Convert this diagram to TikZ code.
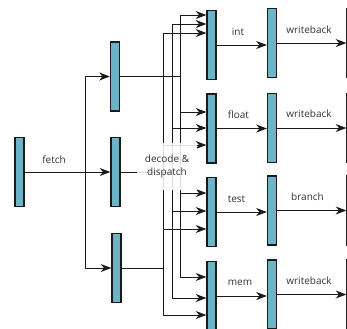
\documentclass[tikz,border=0pt]{standalone}
\usepackage{fontspec}
\setsansfont{Open Sans}
\usetikzlibrary{arrows.meta}
\definecolor{regfill}{HTML}{6DB3C6}
\definecolor{regdraw}{HTML}{1A1A1A}
\definecolor{txt}{HTML}{333333}
\tikzset{
  reg/.style={draw=regdraw, line width=1.2pt, fill=regfill, minimum width=6.5pt, minimum height=52pt, inner sep=0pt},
  wire/.style={draw=black!90, line width=0.75pt},
  arr/.style={wire, -{Stealth[length=8pt,width=6pt,inset=2.5pt]}},
  lbl/.style={font=\sffamily\fontsize{7.5}{9.75}\selectfont, text=txt, inner sep=0pt},
}
\begin{document}
\begin{tikzpicture}[x=0.75pt,y=-0.75pt]
\useasboundingbox (0,0) rectangle (347,329);
\clip (0,0) rectangle (347,329);
% registers
\node[reg] (F) at (19.5,172) {};
\node[reg] (D1) at (115,76.5) {};
\node[reg] (D2) at (115.5,172) {};
\node[reg] (D3) at (116.5,268) {};
\node[reg] (E1) at (211.5,45) {};
\node[reg] (E2) at (211.5,128.5) {};
\node[reg] (E3) at (211.5,212) {};
\node[reg] (E4) at (211.5,296) {};
\node[reg] (W1) at (272,43) {};
\node[reg] (W2) at (272,128) {};
\node[reg] (W3) at (272,210.5) {};
\node[reg] (W4) at (272,294.5) {};
\node[reg] (R1) at (351.5,43) {};
\node[reg] (R2) at (351.5,128) {};
\node[reg] (R3) at (351.5,210.5) {};
\node[reg] (R4) at (351.5,294.5) {};
% fetch fan-out
\coordinate (fj) at (85,172);
\draw[arr] (F.east) -- (D2.west);
\draw[arr] (fj) |- (D1.west);
\draw[arr] (fj) |- (D3.west);
% decode outputs
\coordinate (b1) at (180,76.5);
\coordinate (b2) at (172,172);
\coordinate (b3) at (163,268);
\draw[wire] (D1.east) -- (b1);
\draw[wire] (D2.east) -- (b2);
\draw[wire] (D3.east) -- (b3);
\draw[arr] (b1) |- (E1.west |- 0,15);
\draw[arr] (b1) |- (E2.west |- 0,112);
\draw[arr] (b1) |- (E3.west |- 0,193);
\draw[arr] (b1) |- (E4.west |- 0,277);
\draw[arr] (b2) |- (E1.west |- 0,24);
\draw[arr] (b2) |- (E2.west |- 0,128);
\draw[arr] (b2) |- (E3.west |- 0,211);
\draw[arr] (b2) |- (E4.west |- 0,298);
\draw[arr] (b3) |- (E1.west |- 0,33);
\draw[arr] (b3) |- (E2.west |- 0,145);
\draw[arr] (b3) |- (E3.west |- 0,229);
\draw[arr] (b3) |- (E4.west |- 0,315);
% execute to writeback
\draw[arr] (E1.east) -- (E1.east -| W1.west);
\draw[arr] (E2.east) -- (E2.east -| W2.west);
\draw[arr] (E3.east) -- (E3.east -| W3.west);
\draw[arr] (E4.east) -- (E4.east -| W4.west);
\draw[arr] (W1.east) -- (R1.west);
\draw[arr] (W2.east) -- (R2.west);
\draw[arr] (W3.east) -- (R3.west);
\draw[arr] (W4.east) -- (R4.west);
% labels
\node[lbl] (lfetch) at (54,160) {fetch};
\node[lbl, fill=white, fill opacity=0.85, text opacity=1, align=center, minimum width=45pt, minimum height=35pt] (ldec) at (167,166.5) {decode \&\\dispatch};
\node[lbl] (lint) at (238,32) {int};
\node[lbl] (lfloat) at (238.5,115) {float};
\node[lbl] (ltest) at (236.5,199) {test};
\node[lbl] (lmem) at (240,283) {mem};
\node[lbl] (lwb1) at (309,30) {writeback};
\node[lbl] (lwb2) at (309,114) {writeback};
\node[lbl] (lbr) at (307.5,197) {branch};
\node[lbl] (lwb4) at (309,281) {writeback};
\end{tikzpicture}
\end{document}
